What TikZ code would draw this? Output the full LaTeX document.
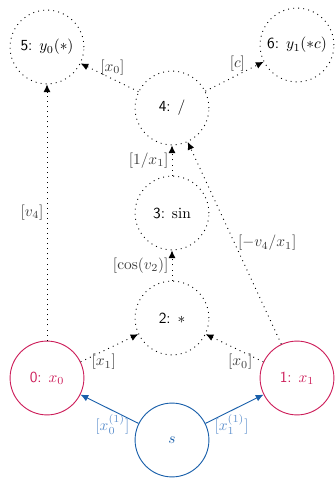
\documentclass[tikz,border=0pt]{standalone}
\usetikzlibrary{arrows.meta}
\definecolor{inred}{RGB}{205,30,90}
\definecolor{seedblue}{RGB}{25,95,170}
\definecolor{seedlbl}{RGB}{95,145,205}
\definecolor{lblgray}{RGB}{60,60,60}
\begin{document}
\begin{tikzpicture}[x=0.65pt, y=0.65pt,
    vert/.style={circle, minimum size=48pt, inner sep=0pt},
    sparsedots/.style={line width=0.6pt, dash pattern=on 0.6pt off 2.7pt},
    opnode/.style={vert, draw, sparsedots},
    innode/.style={vert, draw=inred, text=inred, semithick},
    seednode/.style={vert, draw=seedblue, text=seedblue, semithick},
    dep/.style={sparsedots, -{Latex[length=5pt,width=4.5pt]}},
    seeddep/.style={seedblue, semithick, -{Latex[length=5pt,width=4.5pt]}},
    lbl/.style={text=lblgray, inner sep=2pt},
    slbl/.style={text=seedlbl, inner sep=2pt}]
\useasboundingbox (0,0) rectangle (335,478);

% --- Inputs and seed ---
\node[innode] (x0) at (47,100) {\textsf{0:} $x_0$};
\node[innode] (x1) at (297,100) {\textsf{1:} $x_1$};
\node[seednode] (s) at (172,38) {$s$};

% --- Intermediate operations ---
\node[opnode] (v2) at (172,160) {\textsf{2:} $*$};
\node[opnode] (v3) at (172,265) {\textsf{3:} $\sin$};
\node[opnode] (v4) at (172,370) {\textsf{4:} $/$};

% --- Outputs ---
\node[opnode] (y0) at (47,431) {\textsf{5:} $y_0(*)$};
\node[opnode] (y1) at (297,433) {\textsf{6:} $y_1(*c)$};

% Seed directions
\draw[seeddep] (s) -- (x0) node[slbl, pos=0.45, below] {$[x_0^{(1)}]$};
\draw[seeddep] (s) -- (x1) node[slbl, pos=0.45, below] {$[x_1^{(1)}]$};

% Partial derivatives on the edges
\draw[dep] (x0) -- (v2) node[lbl, pos=0.4, below] {$[x_1]$};
\draw[dep] (x1) -- (v2) node[lbl, pos=0.4, below] {$[x_0]$};
\draw[dep] (v2) -- (v3) node[lbl, midway, left] {$[\cos(v_2)]$};
\draw[dep] (v3) -- (v4) node[lbl, midway, left] {$[1/x_1]$};
\draw[dep] (x1) -- (v4) node[lbl, midway, right] {$[-v_4/x_1]$};
\draw[dep] (x0) -- (y0) node[lbl, midway, left] {$[v_4]$};
\draw[dep] (v4) -- (y0) node[lbl, pos=0.45, above] {$[x_0]$};
\draw[dep] (v4) -- (y1) node[lbl, pos=0.55, above] {$[c]$};
\end{tikzpicture}
\end{document}
